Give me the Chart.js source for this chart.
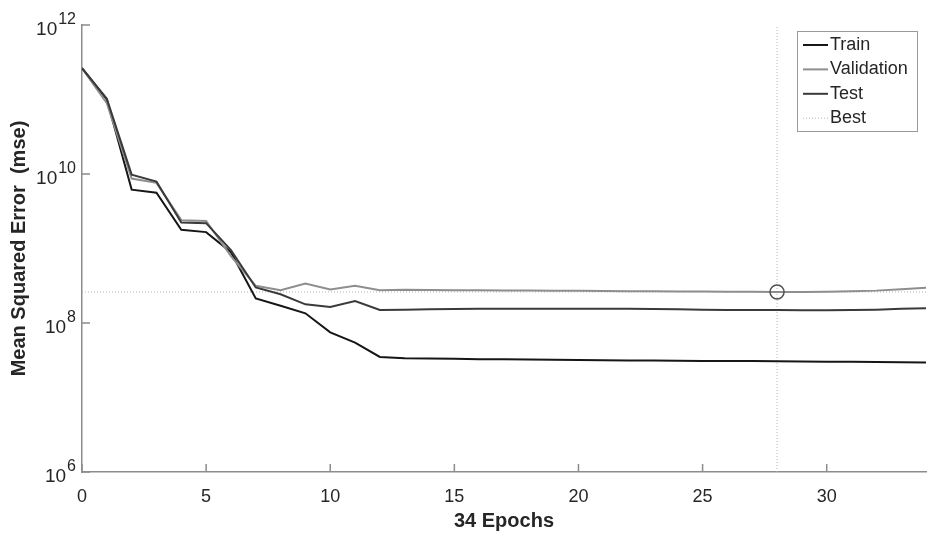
<!DOCTYPE html>
<html>
<head>
<meta charset="utf-8">
<script src="https://cdn.jsdelivr.net/npm/chart.js@4.4.1/dist/chart.umd.min.js"></script>
<style>
  html, body { margin: 0; padding: 0; background: #fff; }
  #wrap { width: 932px; height: 540px; }
</style>
</head>
<body>
<div id="wrap"><canvas id="perf" width="932" height="540"></canvas></div>
<script>
// training record
var epochs = [0, 1, 2, 3, 4, 5, 6, 7, 8, 9, 10, 11, 12, 13, 14, 15, 16, 17,
  18, 19, 20, 21, 22, 23, 24, 25, 26, 27, 28, 29, 30, 31, 32, 33, 34];
var trainMse = [2.63e11, 1.0e11, 6.17e9, 5.62e9, 1.78e9, 1.66e9, 8.9e8, 2.14e8,
  1.70e8, 1.35e8, 7.5e7, 5.45e7, 3.5e7, 3.36e7, 3.33e7, 3.30e7, 3.27e7, 3.25e7,
  3.23e7, 3.21e7, 3.18e7, 3.16e7, 3.15e7, 3.13e7, 3.12e7, 3.10e7, 3.09e7, 3.08e7,
  3.06e7, 3.05e7, 3.03e7, 3.02e7, 3.00e7, 2.98e7, 2.96e7];
var validationMse = [2.63e11, 8.9e10, 8.7e9, 7.6e9, 2.40e9, 2.34e9, 7.9e8, 3.16e8,
  2.75e8, 3.39e8, 2.82e8, 3.16e8, 2.75e8, 2.79e8, 2.77e8, 2.76e8, 2.75e8, 2.74e8,
  2.72e8, 2.71e8, 2.70e8, 2.69e8, 2.67e8, 2.66e8, 2.65e8, 2.64e8, 2.62e8, 2.62e8,
  2.61e8, 2.61e8, 2.63e8, 2.66e8, 2.72e8, 2.83e8, 2.98e8];
var testMse = [2.63e11, 1.02e11, 9.8e9, 7.9e9, 2.24e9, 2.19e9, 9.5e8, 3.0e8,
  2.43e8, 1.78e8, 1.64e8, 1.97e8, 1.50e8, 1.51e8, 1.53e8, 1.54e8, 1.55e8, 1.55e8,
  1.55e8, 1.55e8, 1.55e8, 1.55e8, 1.55e8, 1.54e8, 1.53e8, 1.51e8, 1.50e8, 1.49e8,
  1.49e8, 1.48e8, 1.48e8, 1.49e8, 1.51e8, 1.55e8, 1.58e8];
var bestEpoch = 28;
var bestMse = validationMse[bestEpoch];

var xTickValues = [0, 5, 10, 15, 20, 25, 30];
var yTickValues = [1e6, 1e8, 1e10, 1e12];
var seriesLabels = ['Train', 'Validation', 'Test', 'Best'];

var FONT = "'Liberation Sans', Arial, sans-serif";
var AXIS = '#8c8c8c';
var TEXT = '#262626';

function toPoints(values) {
  return values.map(function (v, i) {
    return { x: epochs[i], y: v };
  });
}

// y labels as 10 with a raised exponent, ticks pointing inwards, boxed legend
var decorations = {
  id: 'decorations',
  afterDraw: function (chart) {
    var ctx = chart.ctx;
    var xs = chart.scales.x, ys = chart.scales.y;
    var area = chart.chartArea;
    ctx.save();
    ctx.strokeStyle = AXIS;
    ctx.lineWidth = 1.5;
    ctx.beginPath();
    xs.ticks.forEach(function (t) {
      var px = xs.getPixelForValue(t.value);
      ctx.moveTo(px, area.bottom);
      ctx.lineTo(px, area.bottom - 8);
    });
    yTickValues.forEach(function (v) {
      var py = ys.getPixelForValue(v);
      ctx.moveTo(area.left, py);
      ctx.lineTo(area.left + 8, py);
    });
    ctx.stroke();

    ctx.fillStyle = TEXT;
    ctx.textBaseline = 'middle';
    yTickValues.forEach(function (v) {
      var py = ys.getPixelForValue(v);
      var exp = String(Math.round(Math.log10(v)));
      ctx.font = '16px ' + FONT;
      ctx.textAlign = 'right';
      var ew = ctx.measureText(exp).width;
      ctx.fillText(exp, area.left - 6, py - 5);
      ctx.font = '19px ' + FONT;
      ctx.fillText('10', area.left - 7 - ew, py + 5);
    });

    // legend
    var bx = 797, by = 31, bw = 120, bh = 100;
    ctx.fillStyle = '#fff';
    ctx.fillRect(bx, by, bw, bh);
    ctx.strokeStyle = '#9a9a9a';
    ctx.lineWidth = 1;
    ctx.strokeRect(bx + 0.5, by + 0.5, bw, bh);
    chart.data.datasets.slice(0, seriesLabels.length).forEach(function (ds, i) {
      var ry = 45 + i * 24.4;
      ctx.strokeStyle = ds.borderColor;
      ctx.lineWidth = ds.borderWidth;
      ctx.setLineDash(ds.borderDash || []);
      ctx.beginPath();
      ctx.moveTo(803, ry);
      ctx.lineTo(828, ry);
      ctx.stroke();
      ctx.setLineDash([]);
      ctx.fillStyle = TEXT;
      ctx.font = '18px ' + FONT;
      ctx.textAlign = 'left';
      ctx.fillText(ds.label, 830, ry);
    });
    ctx.restore();
  }
};

var ctx = document.getElementById('perf').getContext('2d');
var config = {
  type: 'line',
  data: {
    datasets: [{
      label: seriesLabels[0],
      data: toPoints(trainMse),
      borderColor: '#161616',
      borderWidth: 2,
      pointRadius: 0,
      order: 3
    }, {
      label: seriesLabels[1],
      data: toPoints(validationMse),
      borderColor: '#8e8e8e',
      borderWidth: 2,
      pointRadius: 0,
      order: 2
    }, {
      label: seriesLabels[2],
      data: toPoints(testMse),
      borderColor: '#3a3a3a',
      borderWidth: 2,
      pointRadius: 0,
      order: 1
    }, {
      label: seriesLabels[3],
      data: [{ x: epochs[0], y: bestMse }, { x: epochs[epochs.length - 1], y: bestMse }],
      borderColor: '#b4b4b4',
      borderWidth: 1,
      borderDash: [1, 2],
      pointRadius: 0,
      order: 5
    }, {
      label: 'best epoch',
      data: [{ x: bestEpoch, y: yTickValues[0] }, { x: bestEpoch, y: yTickValues[yTickValues.length - 1] }],
      borderColor: '#b4b4b4',
      borderWidth: 1,
      borderDash: [1, 2],
      pointRadius: 0,
      order: 6
    }, {
      label: 'best point',
      data: [{ x: bestEpoch, y: bestMse }],
      showLine: false,
      pointRadius: 7,
      pointBorderWidth: 1.5,
      pointBorderColor: '#505050',
      pointBackgroundColor: 'rgba(0,0,0,0)',
      order: 0
    }]
  },
  options: {
    responsive: false,
    animation: false,
    devicePixelRatio: 1,
    layout: { autoPadding: false, padding: { top: 25, right: 6, left: 0, bottom: 0 } },
    plugins: {
      legend: { display: false },
      tooltip: { enabled: false }
    },
    scales: {
      x: {
        type: 'linear',
        min: 0,
        max: 34,
        grid: { display: false },
        border: { display: true, color: AXIS, width: 1.5 },
        ticks: { font: { family: FONT, size: 18 }, color: TEXT, padding: 6, maxRotation: 0 },
        title: {
          display: true,
          text: '34 Epochs',
          color: TEXT,
          font: { family: FONT, size: 20, weight: 'bold' },
          padding: { top: 0, bottom: 7 }
        },
        afterBuildTicks: function (s) {
          s.ticks = xTickValues.map(function (v) { return { value: v }; });
        },
        afterFit: function (s) { s.height = 68; }
      },
      y: {
        type: 'logarithmic',
        min: yTickValues[0],
        max: yTickValues[yTickValues.length - 1],
        grid: { display: false },
        border: { display: true, color: AXIS, width: 1.5 },
        ticks: { display: false },
        title: {
          display: true,
          text: 'Mean Squared Error  (mse)',
          color: TEXT,
          font: { family: FONT, size: 20, weight: 'bold' },
          padding: { top: 7, bottom: 0 }
        },
        afterBuildTicks: function (s) {
          s.ticks = yTickValues.map(function (v) { return { value: v }; });
        },
        afterFit: function (s) { s.width = 82; }
      }
    }
  },
  plugins: [decorations]
};

var chart = new Chart(ctx, config);
</script>
</body>
</html>
